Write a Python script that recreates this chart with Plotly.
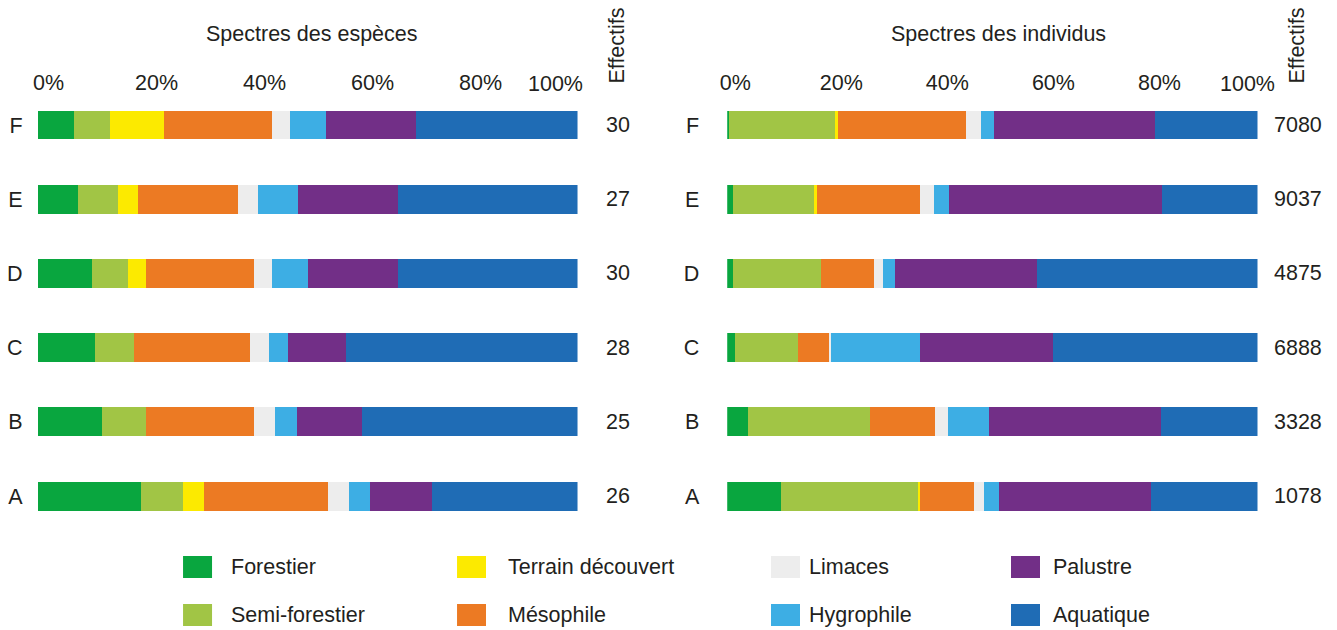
import plotly.graph_objects as go

# ---------------- data ----------------
categories = ["A", "B", "C", "D", "E", "F"]
groups = ["Forestier", "Semi-forestier", "Terrain découvert", "Mésophile",
          "Limaces", "Hygrophile", "Palustre", "Aquatique"]

# species counts per ecological group
sp_forestier = [5, 3, 3, 3, 2, 2]
sp_semi = [2, 2, 2, 2, 2, 2]
sp_terrain = [1, 0, 0, 1, 1, 3]
sp_meso = [6, 5, 6, 6, 5, 6]
sp_limaces = [1, 1, 1, 1, 1, 1]
sp_hygro = [1, 1, 1, 2, 2, 2]
sp_palustre = [3, 3, 3, 5, 5, 5]
sp_aqua = [7, 10, 12, 10, 9, 9]
eff_especes = [26, 25, 28, 30, 27, 30]

# individual percentages per ecological group
ind_forestier = [10.1, 4.0, 1.4, 1.1, 1.0, 0.3]
ind_semi = [26.1, 23.0, 12.0, 16.6, 15.4, 20.1]
ind_terrain = [0.2, 0.0, 0.0, 0.0, 0.5, 0.5]
ind_meso = [10.1, 12.1, 5.9, 10.0, 19.4, 24.1]
ind_limaces = [2.0, 2.5, 0.2, 1.7, 2.7, 2.9]
ind_hygro = [2.8, 7.7, 16.8, 2.2, 2.8, 2.5]
ind_palustre = [28.6, 32.5, 25.1, 26.8, 40.1, 30.3]
ind_aqua = [20.1, 18.2, 38.6, 41.6, 18.1, 19.3]
eff_individus = [1078, 3328, 6888, 4875, 9037, 7080]

tick_vals = [0, 20, 40, 60, 80]
tick_text = ["0%", "20%", "40%", "60%", "80%"]

colors = ["#09A63F", "#A1C545", "#FCEA00", "#EC7A23",
          "#EDEDED", "#3DAEE4", "#722F87", "#1F6CB5"]

species = [sp_forestier, sp_semi, sp_terrain, sp_meso, sp_limaces, sp_hygro, sp_palustre, sp_aqua]
individus = [ind_forestier, ind_semi, ind_terrain, ind_meso, ind_limaces, ind_hygro, ind_palustre, ind_aqua]

# ---------------- figure ----------------
W, H = 1337, 630
OFF = 8                       # horizontal page offset seen around the figure
SX = (W + OFF) / W            # horizontal compensation for that offset
FONT = "Liberation Sans, Arial, Helvetica, sans-serif"
TXT = "#231f20"
FS = 21.5


def px(x):
    return (x * SX - OFF) / W


def py(y):
    return 1 - y / H


fig = go.Figure()

for g, col, vals in zip(groups, colors, species):
    pct = [v / n * 100 for v, n in zip(vals, eff_especes)]
    fig.add_trace(go.Bar(y=categories, x=pct, orientation="h", name=g,
                         marker=dict(color=col, line=dict(width=0)),
                         width=0.39, xaxis="x", yaxis="y", showlegend=False,
                         hovertemplate=g + ": %{x:.1f}%<extra></extra>"))

for g, col, vals in zip(groups, colors, individus):
    fig.add_trace(go.Bar(y=categories, x=vals, orientation="h", name=g,
                         marker=dict(color=col, line=dict(width=0)),
                         width=0.39, xaxis="x2", yaxis="y2", showlegend=False,
                         hovertemplate=g + ": %{x:.1f}%<extra></extra>"))

ydom = [py(522), py(99)]
yr = [-0.35, 5.35]

common_x = dict(range=[0, 100], side="top", showgrid=False, zeroline=False,
                showline=False, tickvals=tick_vals, ticktext=tick_text,
                ticks="", tickfont=dict(size=FS, color=TXT, family=FONT),
                fixedrange=True, ticklabelstandoff=4)
common_y = dict(categoryorder="array", categoryarray=categories, range=yr,
                showgrid=False, zeroline=False, showline=False, ticks="",
                tickfont=dict(size=FS, color=TXT, family=FONT), fixedrange=True)

fig.update_layout(
    width=W, height=H,
    margin=dict(l=0, r=0, t=0, b=0),
    paper_bgcolor="white", plot_bgcolor="white",
    barmode="stack",
    font=dict(family=FONT, size=FS, color=TXT),
    xaxis=dict(domain=[px(37.6), px(577.5)], anchor="y", ticklabelshift=11, **common_x),
    yaxis=dict(domain=ydom, anchor="x", ticklabelstandoff=14, **common_y),
    xaxis2=dict(domain=[px(727.2), px(1257.5)], anchor="y2", ticklabelshift=8, **common_x),
    yaxis2=dict(domain=ydom, anchor="x2", ticklabelstandoff=27, **common_y),
)

ann = []
# titles
ann.append(dict(text="Spectres des espèces", xref="x domain", yref="paper", x=0.5, y=py(34),
                xshift=4, showarrow=False, xanchor="center", yanchor="middle"))
ann.append(dict(text="Spectres des individus", xref="x2 domain", yref="paper", x=0.5, y=py(34),
                xshift=6, showarrow=False, xanchor="center", yanchor="middle"))
# 100% labels
for xr, sh in (("x", -22), ("x2", -10)):
    ann.append(dict(text="100%", xref=xr, yref="paper", x=100, y=py(84), xshift=sh,
                    showarrow=False, xanchor="center", yanchor="middle"))
# Effectifs headers
for xr in ("x domain", "x2 domain"):
    ann.append(dict(text="Effectifs", xref=xr, yref="paper", x=1, y=py(46), xshift=39,
                    textangle=-90, showarrow=False, xanchor="center", yanchor="middle"))
# counts
for c, n in zip(categories, eff_especes):
    ann.append(dict(text=str(n), xref="x domain", yref="y", x=1, y=c, xshift=40,
                    showarrow=False, xanchor="center", yanchor="middle"))
for c, n in zip(categories, eff_individus):
    ann.append(dict(text=str(n), xref="x2 domain", yref="y2", x=1, y=c, xshift=40,
                    showarrow=False, xanchor="center", yanchor="middle"))

# custom legend
sw_x = [183, 457, 771, 1011]
tx_x = [231, 508, 809, 1053]
row_y = [567, 615]
shapes = []
for i, (g, col) in enumerate(zip(groups, colors)):
    c, r = i // 2, i % 2
    shapes.append(dict(type="rect", xref="paper", yref="paper",
                       x0=px(sw_x[c]), x1=px(sw_x[c] + 29),
                       y0=py(row_y[r] + 11), y1=py(row_y[r] - 11),
                       fillcolor=col, line=dict(width=0)))
    ann.append(dict(text=g, xref="paper", yref="paper", x=px(tx_x[c]), y=py(row_y[r]),
                    showarrow=False, xanchor="left", yanchor="middle", xshift=-2))

fig.update_layout(annotations=ann, shapes=shapes)

fig.write_html("out.html", config={"displayModeBar": False})
with open("out.html", encoding="utf-8") as f:
    html = f.read()
html = html.replace("<head>", "<head><style>html,body{margin:0;padding:0;overflow:hidden;}</style>", 1)
with open("out.html", "w", encoding="utf-8") as f:
    f.write(html)
